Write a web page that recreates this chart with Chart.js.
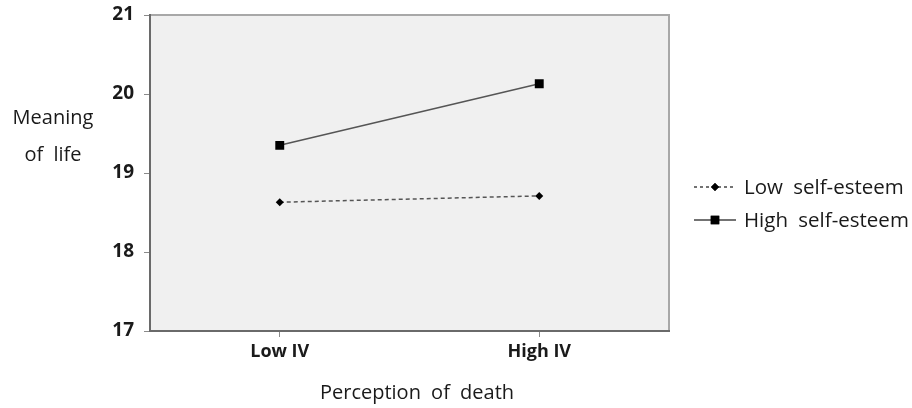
<!DOCTYPE html>
<html>
<head>
<meta charset="utf-8">
<script src="https://cdn.jsdelivr.net/npm/chart.js@4/dist/chart.umd.min.js"></script>
<style>
  body { margin: 0; background: #fff; }
  #wrap { width: 912px; height: 408px; }
</style>
</head>
<body>
<div id="wrap"><canvas id="myChart" width="912" height="408"></canvas></div>
<script>
var categories = ['Low IV', 'High IV']
var lowSelfEsteem = [18.63, 18.71]
var highSelfEsteem = [19.35, 20.13]
var yTickValues = [17, 18, 19, 20, 21]
var seriesNames = ['Low self-esteem', 'High self-esteem']
var xTitle = 'Perception of death'
var yTitle = ['Meaning', 'of life']

var fontFamily = '"Open Sans", "Noto Sans", sans-serif'

// grey plot background plus thin light frame on top and right
var plotFrame = {
  id: 'plotFrame',
  beforeDraw(chart) {
    var ctx = chart.ctx, a = chart.chartArea
    ctx.save()
    ctx.fillStyle = '#f0f0f0'
    ctx.fillRect(a.left, a.top, a.right - a.left, a.bottom - a.top)
    ctx.strokeStyle = '#a8a8a8'
    ctx.lineWidth = 2
    ctx.beginPath()
    ctx.moveTo(a.left, a.top)
    ctx.lineTo(a.right, a.top)
    ctx.lineTo(a.right, a.bottom)
    ctx.stroke()
    ctx.restore()
  }
}

// axis titles and the legend on the right
var extraText = {
  id: 'extraText',
  afterDraw(chart) {
    var ctx = chart.ctx
    ctx.save()
    ctx.fillStyle = '#1a1a1a'
    ctx.font = '20px ' + fontFamily
    ctx.wordSpacing = '5px'
    ctx.textAlign = 'center'
    ctx.textBaseline = 'middle'
    ctx.fillText(xTitle, 417, 393)
    ctx.fillText(yTitle[0], 53, 118)
    ctx.fillText(yTitle[1], 53, 155)

    var rows = [
      { y: 187, dash: [3, 3], style: 'rectRot', r: 4 },
      { y: 220, dash: [], style: 'rect', r: 6 }
    ]
    ctx.font = '20.5px ' + fontFamily
    rows.forEach(function (row, i) {
      ctx.strokeStyle = '#444'
      ctx.lineWidth = 1.5
      ctx.setLineDash(row.dash)
      ctx.beginPath()
      ctx.moveTo(694, row.y)
      ctx.lineTo(736, row.y)
      ctx.stroke()
      ctx.setLineDash([])
      ctx.fillStyle = '#000'
      Chart.helpers.drawPoint(ctx, { pointStyle: row.style, radius: row.r, rotation: 0, borderWidth: 0 }, 715, row.y)
      ctx.fill()
      ctx.fillStyle = '#1a1a1a'
      ctx.textAlign = 'left'
      ctx.fillText(seriesNames[i], 744, row.y + 1)
    })
    ctx.restore()
  }
}

var ctx = document.getElementById('myChart').getContext('2d')
var chart = new Chart(ctx, {
  type: 'line',
  data: {
    labels: categories,
    datasets: [{
      label: seriesNames[0],
      data: lowSelfEsteem,
      borderColor: '#555',
      borderWidth: 1.5,
      borderDash: [4, 3],
      pointStyle: 'rectRot',
      pointRadius: 4,
      pointBackgroundColor: '#000',
      pointBorderColor: '#000',
      pointBorderWidth: 0
    }, {
      label: seriesNames[1],
      data: highSelfEsteem,
      borderColor: '#555',
      borderWidth: 1.5,
      pointStyle: 'rect',
      pointRadius: 6.3,
      pointBackgroundColor: '#000',
      pointBorderColor: '#000',
      pointBorderWidth: 0
    }]
  },
  options: {
    responsive: false,
    animation: false,
    layout: { padding: { left: 0, right: 243, top: 15, bottom: 0 } },
    plugins: {
      legend: { display: false },
      tooltip: { enabled: false }
    },
    scales: {
      x: {
        type: 'category',
        offset: true,
        afterFit: function (scale) {
          scale.height = 77
          scale.paddingLeft = 0
          scale.paddingRight = 0
        },
        border: { color: '#6a6a6a', width: 2 },
        grid: { drawOnChartArea: false, drawTicks: true, tickLength: 6, color: '#8a8a8a', offset: false },
        ticks: { color: '#1a1a1a', padding: 4, font: { family: fontFamily, size: 18, weight: 'bold' } }
      },
      y: {
        min: 17,
        max: 21,
        afterFit: function (scale) {
          scale.width = 150
          scale.paddingTop = 0
          scale.paddingBottom = 0
        },
        afterBuildTicks: function (scale) {
          scale.ticks = yTickValues.map(function (v) { return { value: v } })
        },
        border: { color: '#6a6a6a', width: 2 },
        grid: { drawOnChartArea: false, drawTicks: true, tickLength: 6, color: '#8a8a8a' },
        ticks: { color: '#1a1a1a', padding: 10, font: { family: fontFamily, size: 19, weight: 'bold' } }
      }
    }
  },
  plugins: [plotFrame, extraText]
})
</script>
</body>
</html>
